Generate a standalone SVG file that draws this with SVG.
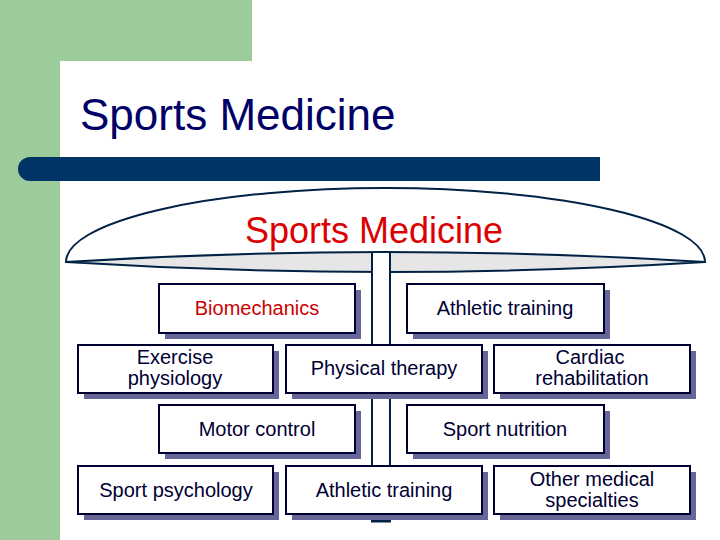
<svg xmlns="http://www.w3.org/2000/svg" width="720" height="540" viewBox="0 0 720 540">
<style>
.box{fill:#ffffff;stroke:#000033;stroke-width:2}
.sh{fill:#666699}
.t{font-family:"Liberation Sans",Arial,sans-serif;font-size:20px;fill:#000033;text-anchor:middle}
.red{fill:#cc0000}
.ln{stroke:#002244;stroke-width:2;fill:none}
</style>
<rect x="0" y="0" width="720" height="540" fill="#ffffff"/>
<rect x="0" y="0" width="252" height="61" fill="#9ccc9c"/>
<rect x="0" y="0" width="60" height="540" fill="#9ccc9c"/>
<path d="M60,540 V83 Q60,61 82,61 H720 V540 Z" fill="#ffffff"/>
<text x="80" y="130" font-family="'Liberation Sans',Arial,sans-serif" font-size="44" fill="#000066">Sports Medicine</text>
<path d="M30,157 H600 V181 H30 A12,12 0 0 1 30,157 Z" fill="#003366"/>
<g id="umbrella">
<path d="M66,262 A319.5,74 0 0 1 705,262 Z" fill="#ffffff" stroke="#002244" stroke-width="2"/>
<path d="M66,262 Q385,242 705,262 Q385,282 66,262 Z" fill="#e6e6e6" stroke="#002244" stroke-width="2"/>
<text x="374" y="243" font-family="'Liberation Sans',Arial,sans-serif" font-size="36" fill="#dd0000" text-anchor="middle">Sports Medicine</text>
<rect x="372" y="253" width="18" height="268" fill="#ffffff"/>
<line class="ln" x1="372" y1="253" x2="372" y2="522"/>
<line class="ln" x1="390" y1="253" x2="390" y2="522"/>
<line x1="371" y1="521" x2="391" y2="521" stroke="#002244" stroke-width="3"/>
</g>
<g id="biomechanics"><rect class="sh" x="165" y="290" width="196" height="49"/><rect class="box" x="159" y="284" width="196" height="49"/><text class="t red" x="257" y="315">Biomechanics</text></g>
<g id="athletic-training-1"><rect class="sh" x="413" y="290" width="197" height="49"/><rect class="box" x="407" y="284" width="197" height="49"/><text class="t" x="505" y="315">Athletic training</text></g>
<g id="exercise-physiology"><rect class="sh" x="84" y="351" width="195" height="48"/><rect class="box" x="78" y="345" width="195" height="48"/><text class="t" x="175" y="364">Exercise</text><text class="t" x="175" y="385">physiology</text></g>
<g id="physical-therapy"><rect class="sh" x="292" y="351" width="196" height="48"/><rect class="box" x="286" y="345" width="196" height="48"/><text class="t" x="384" y="375">Physical therapy</text></g>
<g id="cardiac-rehabilitation"><rect class="sh" x="500" y="351" width="196" height="48"/><rect class="box" x="494" y="345" width="196" height="48"/><text class="t" x="590" y="364">Cardiac</text><text class="t" x="592" y="385">rehabilitation</text></g>
<g id="motor-control"><rect class="sh" x="165" y="411" width="196" height="48"/><rect class="box" x="159" y="405" width="196" height="48"/><text class="t" x="257" y="436">Motor control</text></g>
<g id="sport-nutrition"><rect class="sh" x="413" y="411" width="197" height="48"/><rect class="box" x="407" y="405" width="197" height="48"/><text class="t" x="505" y="436">Sport nutrition</text></g>
<g id="sport-psychology"><rect class="sh" x="84" y="472" width="195" height="48"/><rect class="box" x="78" y="466" width="195" height="48"/><text class="t" x="176" y="497">Sport psychology</text></g>
<g id="athletic-training-2"><rect class="sh" x="292" y="472" width="196" height="48"/><rect class="box" x="286" y="466" width="196" height="48"/><text class="t" x="384" y="497">Athletic training</text></g>
<g id="other-medical-specialties"><rect class="sh" x="500" y="472" width="196" height="48"/><rect class="box" x="494" y="466" width="196" height="48"/><text class="t" x="592" y="486">Other medical</text><text class="t" x="592" y="507">specialties</text></g>
</svg>
